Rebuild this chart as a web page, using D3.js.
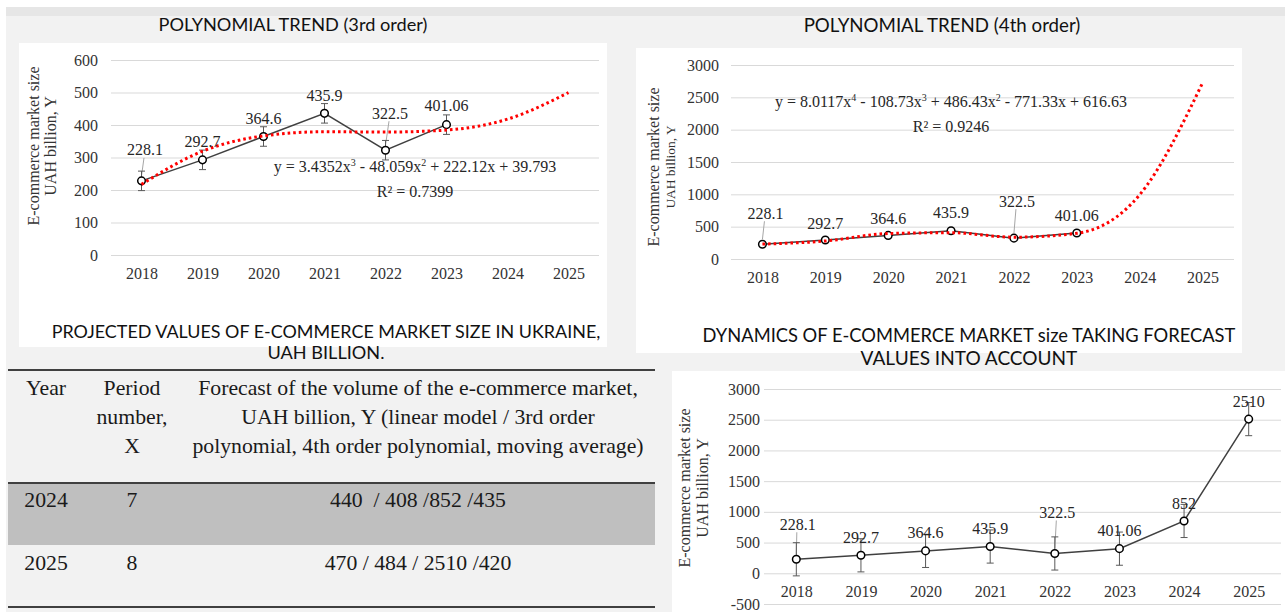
<!DOCTYPE html>
<html>
<head>
<meta charset="utf-8">
<script src="https://cdn.jsdelivr.net/npm/d3@7"></script>
<style>
  body { margin: 0; background: #f2f2f2; }
  svg { display: block; }
</style>
</head>
<body>
<script>
// ---- data ----
var years = ["2018", "2019", "2020", "2021", "2022", "2023", "2024", "2025"];
var actual = [228.1, 292.7, 364.6, 435.9, 322.5, 401.06];
var withForecast = [228.1, 292.7, 364.6, 435.9, 322.5, 401.06, 852, 2510];
var trend3 = [217.3, 319.3, 366.4, 379.2, 378.3, 384.4, 418.0, 499.8];
var trend4 = [231.0, 278.0, 393.8, 406.5, 336.8, 397.6, 994.1, 2723.6];
var err3 = 30;
var errForecast = 270;
var ticks3 = [0, 100, 200, 300, 400, 500, 600];
var ticks4 = [0, 500, 1000, 1500, 2000, 2500, 3000];
var ticksForecast = [-500, 0, 500, 1000, 1500, 2000, 2500, 3000];

var eq3 = ["y = 3.4352x", "3", " - 48.059x", "2", " + 222.12x + 39.793"];
var r3 = "R² = 0.7399";
var eq4 = ["y = 8.0117x", "4", " - 108.73x", "3", " + 486.43x", "2", " - 771.33x + 616.63"];
var r4 = "R² = 0.9246";

var tableHead = [
  ["Year"],
  ["Period", "number,", "X"],
  ["Forecast of the volume of the e-commerce market,",
   "UAH billion, Y (linear model / 3rd order",
   "polynomial, 4th order polynomial, moving average)"]
];
var tableYears = ["2024", "2025"];
var tablePeriods = ["7", "8"];
var tableForecasts = ["440  / 408 /852 /435", "470 / 484 / 2510 /420"];

var serif = "'Liberation Serif', 'Times New Roman', serif";
var sans = "Lato, 'Open Sans', sans-serif";

var svg = d3.select("body").append("svg")
    .attr("width", 1285)
    .attr("height", 612);

// background panels
svg.append("rect").attr("width", 1285).attr("height", 612).attr("fill", "#f2f2f2");
svg.append("rect").attr("width", 1285).attr("height", 7).attr("fill", "#ffffff");
svg.append("rect").attr("width", 6).attr("height", 612).attr("fill", "#ffffff");
svg.append("rect").attr("x", 6).attr("y", 7).attr("width", 1279).attr("height", 9).attr("fill", "#e6e6e6");
svg.append("rect").attr("x", 19).attr("y", 43).attr("width", 588).attr("height", 304).attr("fill", "#fff");
svg.append("rect").attr("x", 636).attr("y", 48).attr("width", 606).attr("height", 305).attr("fill", "#fff");
svg.append("rect").attr("x", 672).attr("y", 371).attr("width", 613).attr("height", 241).attr("fill", "#fff");

// squeeze/stretch font size so a line of text gets a given width
function fitText(sel, width) {
  var node = sel.node();
  var size = parseFloat(sel.style("font-size"));
  var w = node.getComputedTextLength();
  sel.style("font-size", (size * width / w) + "px");
  return sel;
}

function title(txt, cx, cy, width) {
  var t = svg.append("text")
      .attr("x", cx).attr("y", cy).attr("dy", "0.35em")
      .attr("text-anchor", "middle")
      .style("font-family", sans)
      .style("font-size", "16px")
      .attr("fill", "#111")
      .text(txt);
  fitText(t, width);
}

function equation(parts, r2, cx, cy) {
  var t = svg.append("text")
      .attr("x", cx).attr("y", cy).attr("dy", "0.35em")
      .attr("text-anchor", "middle")
      .style("font-family", serif).style("font-size", "16px")
      .attr("fill", "#262626");
  parts.forEach(function(p, i) {
    if (i % 2 == 1) {
      t.append("tspan").attr("dy", -6).style("font-size", "10px").text(p);
    } else {
      t.append("tspan").attr("dy", i == 0 ? 0 : 6).text(p);
    }
  });
  svg.append("text")
      .attr("x", cx).attr("y", cy + 19).attr("dy", "0.35em")
      .attr("text-anchor", "middle")
      .style("font-family", serif).style("font-size", "16px")
      .attr("fill", "#262626")
      .text(r2);
}

function lineChart(opt) {
  var g = svg.append("g");
  var x = d3.scalePoint().domain(years).range(opt.xRange).padding(0.5);
  var y = d3.scaleLinear().domain(opt.yDomain).range(opt.yRange);
  var w = opt.xRange[1] - opt.xRange[0];

  // y axis + gridlines
  g.append("g")
      .attr("transform", "translate(" + opt.xRange[0] + ",0)")
      .call(d3.axisLeft(y).tickValues(opt.ticks).tickSize(-w).tickPadding(opt.tickPad)
              .tickFormat(function(d) { return String(d); }))
      .attr("font-family", serif)
      .attr("font-size", 16)
      .call(function(a) {
        a.select(".domain").remove();
        a.selectAll("line").attr("stroke", "#d9d9d9");
        a.selectAll("text").attr("fill", "#333");
      });

  // x labels sit just under the zero line
  g.append("g")
      .attr("transform", "translate(0," + (y(0) + 18) + ")")
      .call(d3.axisBottom(x).tickSize(0).tickPadding(0))
      .attr("font-family", serif)
      .attr("font-size", 16)
      .call(function(a) {
        a.select(".domain").remove();
        a.selectAll("text")
          .attr("y", 0).attr("dy", "0.35em")
          .attr("fill", "#333");
      });

  // axis title, two rotated lines
  opt.axisTitle.forEach(function(line, i) {
    g.append("text")
        .attr("transform", "translate(" + line.x + "," + opt.titleY + ") rotate(-90)")
        .attr("text-anchor", "middle")
        .attr("dy", "0.35em")
        .style("font-family", serif)
        .style("font-size", line.size + "px")
        .attr("fill", "#333")
        .text(line.text);
  });

  var data = opt.values.map(function(v, i) { return { year: years[i], v: v, i: i }; });

  // leader lines
  g.selectAll(".leader")
    .data(data.filter(function(d) { return opt.leaders.indexOf(d.i) >= 0; }))
    .enter().append("line")
      .attr("x1", function(d) { return x(d.year) + opt.dx[d.i] - 1; })
      .attr("y1", function(d) { return y(d.v) + opt.dy[d.i] + 8; })
      .attr("x2", function(d) { return x(d.year); })
      .attr("y2", function(d) { return y(d.v) - 5; })
      .attr("stroke", "#a6a6a6")
      .attr("stroke-width", 1);

  // error bars
  if (opt.err) {
    var eb = g.selectAll(".err").data(data).enter().append("g").attr("stroke", "#595959").attr("stroke-width", 1);
    eb.append("line")
      .attr("x1", function(d) { return x(d.year); })
      .attr("x2", function(d) { return x(d.year); })
      .attr("y1", function(d) { return y(d.v - opt.err); })
      .attr("y2", function(d) { return y(d.v + opt.err); });
    [-1, 1].forEach(function(s) {
      eb.append("line")
        .attr("x1", function(d) { return x(d.year) - 3.5; })
        .attr("x2", function(d) { return x(d.year) + 3.5; })
        .attr("y1", function(d) { return y(d.v + s * opt.err); })
        .attr("y2", function(d) { return y(d.v + s * opt.err); });
    });
  }

  var line = d3.line()
      .x(function(d) { return x(d.year); })
      .y(function(d) { return y(d.v); });

  g.append("path")
      .datum(data)
      .attr("d", line)
      .attr("fill", "none")
      .attr("stroke", "#404040")
      .attr("stroke-width", 1.5);

  g.selectAll(".pt")
    .data(data)
    .enter().append("circle")
      .attr("cx", function(d) { return x(d.year); })
      .attr("cy", function(d) { return y(d.v); })
      .attr("r", 3.8)
      .attr("fill", "#fff")
      .attr("stroke", "#000")
      .attr("stroke-width", 1.5);

  if (opt.trend) {
    var tline = d3.line()
        .curve(d3.curveMonotoneX)
        .x(function(d, i) { return x(years[i]); })
        .y(function(d) { return y(d); });
    g.append("path")
        .datum(opt.trend)
        .attr("d", tline)
        .attr("fill", "none")
        .attr("stroke", "#ff0000")
        .attr("stroke-width", 3)
        .attr("stroke-dasharray", "2.6 3");
  }

  g.selectAll(".lbl")
    .data(data)
    .enter().append("text")
      .attr("x", function(d) { return x(d.year) + opt.dx[d.i]; })
      .attr("y", function(d) { return y(d.v) + opt.dy[d.i]; })
      .attr("dy", "0.35em")
      .attr("text-anchor", "middle")
      .style("font-family", serif)
      .style("font-size", "16px")
      .attr("fill", "#262626")
      .text(function(d) { return d.v; });
}

// ---- chart 1: 3rd order ----
title("POLYNOMIAL TREND (3rd order)", 293, 25, 269);
lineChart({
  xRange: [111, 599], yDomain: [0, 600], yRange: [255, 60], ticks: ticks3, tickPad: 13,
  values: actual, trend: trend3, err: err3,
  dx: [3.5, 0, 0, 0, 4.5, 0], dy: [-31, -18, -18, -18, -37, -19], leaders: [0, 4],
  titleY: 146,
  axisTitle: [{ text: "E-commerce market size", x: 33, size: 16 }, { text: "UAH billion, Y", x: 50, size: 16 }]
});
equation(eq3, r3, 415, 172);

// ---- chart 2: 4th order ----
title("POLYNOMIAL TREND (4th order)", 942, 25, 277);
lineChart({
  xRange: [731, 1234], yDomain: [0, 3000], yRange: [259, 65], ticks: ticks4, tickPad: 12,
  values: actual, trend: trend4, err: 0,
  dx: [3, 0, 0, 0, 3, 0], dy: [-31, -17, -17, -18, -37, -18], leaders: [0, 4],
  titleY: 167,
  axisTitle: [{ text: "E-commerce market size", x: 653, size: 16 }, { text: "UAH billion, Y", x: 670, size: 13.4 }]
});
equation(eq4, r4, 951, 107);

// ---- chart 4: dynamics incl. forecast ----
title("DYNAMICS OF E-COMMERCE MARKET size TAKING FORECAST", 969, 336, 533);
title("VALUES INTO ACCOUNT", 969, 358, 217);
lineChart({
  xRange: [764, 1281], yDomain: [-500, 3000], yRange: [604, 389], ticks: ticksForecast, tickPad: 4,
  values: withForecast, trend: null, err: errForecast,
  dx: [1.5, 0, 0, 0, 2.5, 0, 0, 0], dy: [-35, -18, -18, -18, -41, -18, -18, -18], leaders: [0, 4],
  titleY: 488,
  axisTitle: [{ text: "E-commerce market size", x: 684, size: 16 }, { text: "UAH billion, Y", x: 702, size: 16 }]
});

// ---- table ----
title("PROJECTED VALUES OF E-COMMERCE MARKET SIZE IN UKRAINE,", 326, 332, 549);
title("UAH BILLION.", 326, 353, 117);

var colX = [46, 132, 418];
var tbl = svg.append("g");
tbl.append("rect").attr("x", 8).attr("y", 484).attr("width", 647).attr("height", 61).attr("fill", "#bfbfbf");
[370, 483, 607].forEach(function(yy) {
  tbl.append("line").attr("x1", 8).attr("x2", 655).attr("y1", yy).attr("y2", yy)
    .attr("stroke", "#404040").attr("stroke-width", 1.8);
});

var probe = tbl.append("text").style("font-family", serif).style("font-size", "20px").text(tableHead[2][0]);
fitText(probe, 440);
var tableSize = probe.style("font-size");
probe.remove();

tableHead.forEach(function(lines, c) {
  lines.forEach(function(txt, k) {
    tbl.append("text")
      .attr("x", colX[c]).attr("y", 387 + k * 29).attr("dy", "0.35em")
      .attr("text-anchor", "middle")
      .style("font-family", serif).style("font-size", tableSize)
      .attr("fill", "#1a1a1a")
      .text(txt);
  });
});

[tableYears, tablePeriods, tableForecasts].forEach(function(col, c) {
  col.forEach(function(txt, r) {
    tbl.append("text")
      .attr("x", colX[c]).attr("y", 499 + r * 63).attr("dy", "0.35em")
      .attr("text-anchor", "middle")
      .style("font-family", serif).style("font-size", tableSize)
      .style("white-space", "pre")
      .attr("fill", "#1a1a1a")
      .text(txt);
  });
});
</script>
</body>
</html>
